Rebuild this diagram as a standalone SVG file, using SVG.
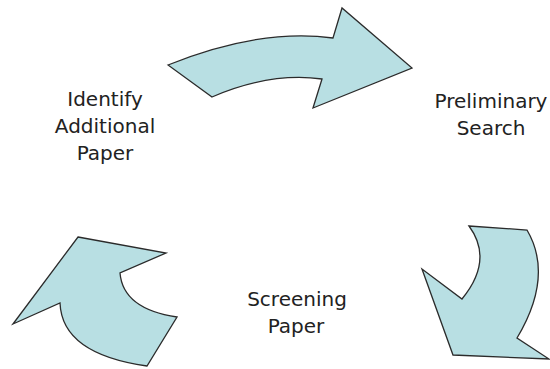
<svg xmlns="http://www.w3.org/2000/svg" width="550" height="369" viewBox="0 0 550 369">
<style>
.arrow{fill:#b8dfe3;stroke:#2b2b2b;stroke-width:1.3;stroke-linejoin:miter}
.lbl{font-family:"DejaVu Sans","Open Sans",sans-serif;font-size:20px;fill:#222;text-anchor:middle}
</style>
<rect width="550" height="369" fill="#ffffff"/>
<g id="connectors">
<path id="arrow-top" class="arrow" d="M168,65 Q260,28 333,38 L342,8 L412,68 L313,108 L322,79 Q270,72 212,97 Z"/>
<path id="arrow-right" class="arrow" d="M469,226 L527,230 Q554,276 517,338 L549,359 L453,355 L422,269 L462,299 Q494,260 469,226 Z"/>
<path id="arrow-left" class="arrow" d="M78,237 L166,253 L120,273 Q123,309 177,317 L147,366 Q62,354 60,303 L13,324 Z"/>
</g>
<g id="node-identify">
<text class="lbl" x="105" y="106">Identify</text>
<text class="lbl" x="105" y="133">Additional</text>
<text class="lbl" x="105" y="160">Paper</text>
</g>
<g id="node-preliminary">
<text class="lbl" x="491" y="108">Preliminary</text>
<text class="lbl" x="491" y="135">Search</text>
</g>
<g id="node-screening">
<text class="lbl" x="297" y="306">Screening</text>
<text class="lbl" x="296" y="333">Paper</text>
</g>
</svg>
